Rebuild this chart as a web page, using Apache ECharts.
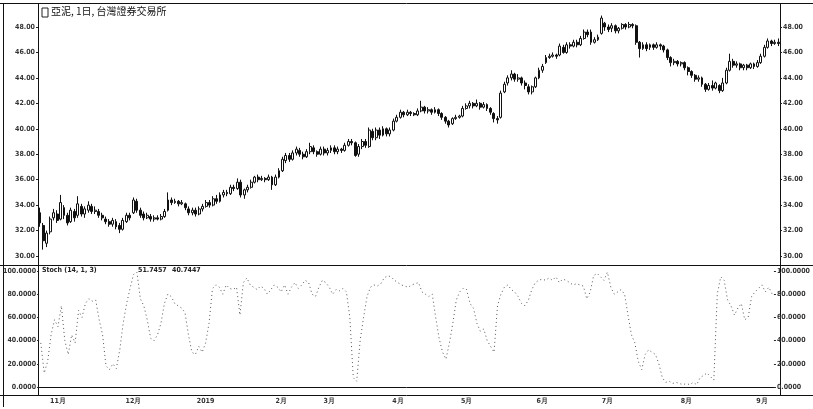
<!DOCTYPE html>
<html lang="zh-Hant">
<head>
    <meta charset="UTF-8" />
    <title>亞泥, 1日</title>
    <script src="https://cdn.jsdelivr.net/npm/echarts@6/dist/echarts.min.js"></script>
</head>
<body style="margin:0;background:#fff">
    <div style="width: 813px; height: 409px" id="chart"></div>
    <script>
        // 交易日：每月的天數與月份標籤
        const monthKeys = ["2018-10", "2018-11", "2018-12", "2019-01", "2019-02", "2019-03", "2019-04", "2019-05", "2019-06", "2019-07", "2019-08", "2019-09"];
        const monthCounts = [5, 22, 21, 22, 14, 20, 20, 22, 19, 23, 22, 4];
        const monthLabels = ["", "11月", "12月", "2019", "2月", "3月", "4月", "5月", "6月", "7月", "8月", "9月"];

        // K線 [開, 收, 低, 高]
        const octBars = [[33.4, 32.6, 32.3, 33.8], [32.4, 31.2, 30.5, 32.6], [31.0, 31.8, 30.7, 32.0], [31.9, 32.9, 31.7, 33.1], [33.0, 33.4, 32.8, 33.7]];
        const novBars = [[33.3, 32.8, 32.6, 33.6], [32.9, 34.2, 32.8, 34.8], [33.8, 33.2, 32.9, 34.0], [33.2, 32.6, 32.4, 33.4], [32.7, 33.6, 32.6, 33.8], [33.5, 33.0, 32.7, 33.7],
            [33.2, 34.1, 33.0, 34.7], [33.9, 33.3, 33.1, 34.1], [33.3, 33.7, 33.0, 33.9], [33.6, 34.0, 33.4, 34.3], [33.9, 33.5, 33.3, 34.1], [33.5, 33.6, 33.3, 33.9],
            [33.5, 33.2, 33.0, 33.7], [33.2, 33.0, 32.8, 33.4], [32.9, 32.7, 32.5, 33.1], [32.7, 32.5, 32.3, 32.9], [32.5, 32.8, 32.3, 33.0], [32.7, 32.3, 32.1, 32.9],
            [32.4, 32.1, 31.8, 32.6], [32.1, 32.8, 32.0, 33.0], [32.7, 33.2, 32.6, 33.4], [33.2, 33.0, 32.8, 33.4]];
        const decBars = [[33.4, 34.4, 33.3, 34.6], [34.3, 33.6, 33.4, 34.5], [33.6, 33.2, 33.0, 33.8], [33.3, 33.0, 32.8, 33.5], [33.0, 33.2, 32.9, 33.4], [33.1, 32.9, 32.7, 33.3],
            [32.9, 33.0, 32.7, 33.2], [33.0, 32.9, 32.8, 33.2], [32.9, 33.1, 32.8, 33.3], [33.1, 33.5, 33.0, 33.7], [33.6, 34.4, 33.5, 35.0], [34.4, 34.2, 34.0, 34.6],
            [34.2, 34.3, 34.1, 34.5], [34.3, 34.1, 33.9, 34.4], [34.1, 34.2, 34.0, 34.4], [34.1, 33.8, 33.6, 34.2], [33.7, 33.4, 33.2, 33.9], [33.4, 33.6, 33.2, 33.8],
            [33.6, 33.3, 33.1, 33.8], [33.3, 33.7, 33.2, 33.9], [33.7, 33.9, 33.5, 34.1]];
        const janBars = [[33.9, 34.2, 33.8, 34.4], [34.2, 34.0, 33.8, 34.4], [34.0, 34.5, 33.9, 34.7], [34.5, 34.3, 34.1, 34.8], [34.3, 34.8, 34.2, 35.0], [34.8, 35.0, 34.6, 35.2],
            [35.0, 34.9, 34.7, 35.2], [34.9, 35.4, 34.8, 35.6], [35.4, 35.3, 35.1, 35.6], [35.3, 35.8, 35.2, 36.1], [35.8, 34.8, 34.6, 36.0], [34.8, 35.2, 34.5, 35.3],
            [35.2, 35.4, 35.0, 35.6], [35.4, 35.8, 35.3, 36.0], [35.8, 36.2, 35.7, 36.3], [36.2, 36.0, 35.8, 36.4], [36.0, 36.1, 35.9, 36.3], [36.1, 36.0, 35.8, 36.2],
            [36.0, 36.2, 35.9, 36.4], [36.2, 35.6, 35.2, 36.3], [35.6, 36.2, 35.5, 36.4], [36.2, 36.7, 36.1, 36.9]];
        const febBars = [[36.7, 37.6, 36.6, 37.8], [37.5, 37.9, 37.3, 38.1], [37.9, 37.6, 37.4, 38.1], [37.6, 38.1, 37.5, 38.3], [38.1, 38.4, 37.9, 38.6], [38.3, 38.0, 37.8, 38.5],
            [38.0, 37.8, 37.6, 38.2], [37.8, 38.2, 37.7, 38.4], [38.2, 38.6, 38.0, 38.9], [38.5, 38.2, 38.0, 38.7], [38.2, 38.0, 37.8, 38.3], [38.0, 38.4, 37.9, 38.6],
            [38.4, 38.1, 37.9, 38.6], [38.1, 38.3, 37.9, 38.5]];
        const marBars = [[38.3, 38.5, 38.1, 38.7], [38.5, 38.2, 38.0, 38.7], [38.2, 38.4, 38.0, 38.6], [38.4, 38.3, 38.1, 38.5], [38.3, 38.7, 38.2, 38.9], [38.7, 39.0, 38.6, 39.2],
            [39.0, 38.9, 38.7, 39.2], [38.9, 37.9, 37.8, 39.0], [38.0, 38.6, 37.8, 38.8], [38.6, 39.0, 38.4, 39.2], [39.0, 38.7, 38.5, 39.2], [38.6, 39.9, 38.5, 40.1],
            [39.8, 39.3, 39.1, 40.0], [39.3, 39.9, 39.1, 40.1], [39.9, 39.5, 39.2, 40.1], [39.5, 40.0, 39.4, 40.2], [40.0, 39.6, 39.4, 40.1], [39.6, 39.9, 39.4, 40.1],
            [39.9, 40.6, 39.8, 40.8], [40.6, 40.9, 40.5, 41.1]];
        const aprBars = [[40.9, 41.3, 40.8, 41.5], [41.3, 41.1, 40.9, 41.4], [41.1, 41.3, 41.0, 41.5], [41.3, 41.2, 41.0, 41.4], [41.2, 41.1, 41.0, 41.3], [41.1, 41.4, 41.0, 41.6],
            [41.4, 41.7, 41.3, 42.2], [41.7, 41.4, 41.2, 41.8], [41.4, 41.5, 41.2, 41.7], [41.5, 41.3, 41.1, 41.6], [41.3, 41.5, 41.2, 41.7], [41.5, 41.2, 41.0, 41.6],
            [41.2, 40.9, 40.7, 41.3], [40.9, 40.6, 40.4, 41.0], [40.6, 40.3, 40.1, 40.7], [40.4, 40.8, 40.3, 40.9], [40.8, 40.9, 40.7, 41.1], [40.9, 41.0, 40.8, 41.1],
            [41.0, 41.6, 40.9, 41.8], [41.6, 41.8, 41.5, 42.0]];
        const mayBars = [[41.8, 42.0, 41.6, 42.2], [42.0, 41.8, 41.6, 42.1], [41.8, 42.0, 41.7, 42.3], [42.0, 41.7, 41.5, 42.1], [41.7, 41.9, 41.6, 42.1], [41.9, 41.6, 41.4, 42.0],
            [41.6, 41.3, 41.1, 41.7], [41.2, 40.8, 40.5, 41.3], [40.8, 40.7, 40.4, 41.0], [40.9, 42.8, 40.8, 43.0], [42.9, 43.5, 42.8, 43.7], [43.6, 44.0, 43.4, 44.2],
            [44.0, 44.3, 43.8, 44.6], [44.3, 43.9, 43.7, 44.4], [43.9, 44.0, 43.7, 44.3], [44.0, 43.6, 43.4, 44.1], [43.6, 43.4, 43.1, 43.8], [43.3, 42.9, 42.7, 43.5],
            [42.9, 43.3, 42.7, 43.4], [43.3, 44.0, 43.2, 44.1], [44.0, 44.6, 43.9, 44.8], [44.6, 44.9, 44.4, 45.1]];
        const junBars = [[45.2, 45.6, 45.1, 45.8], [45.6, 45.7, 45.5, 45.9], [45.7, 45.8, 45.6, 46.0], [45.8, 45.7, 45.5, 45.9], [45.8, 46.5, 45.7, 46.7], [46.4, 46.0, 45.9, 46.6],
            [46.0, 46.6, 45.9, 46.8], [46.6, 46.5, 46.3, 46.8], [46.5, 46.8, 46.4, 47.0], [46.8, 46.6, 46.4, 47.0], [46.6, 47.1, 46.5, 47.3], [47.1, 47.6, 47.0, 47.8],
            [47.6, 47.4, 47.2, 47.8], [47.6, 46.8, 46.6, 47.8], [46.8, 47.0, 46.7, 47.2], [47.0, 47.2, 46.9, 47.4], [47.5, 48.7, 47.4, 48.9], [48.3, 48.0, 47.7, 48.4],
            [48.0, 47.8, 47.6, 48.2]];
        const julBars = [[47.9, 48.1, 47.6, 48.3], [48.1, 47.7, 47.5, 48.2], [47.7, 47.9, 47.5, 48.0], [47.9, 48.2, 47.8, 48.3], [48.2, 48.0, 47.8, 48.3], [48.0, 48.2, 47.9, 48.4],
            [48.2, 48.1, 47.9, 48.3], [48.1, 46.8, 46.6, 48.2], [46.8, 46.3, 45.6, 46.9], [46.3, 46.6, 46.2, 46.8], [46.6, 46.3, 46.1, 46.8], [46.4, 46.6, 46.2, 46.7],
            [46.6, 46.4, 46.2, 46.7], [46.4, 46.6, 46.3, 46.8], [46.6, 46.5, 46.2, 46.7], [46.5, 46.2, 46.0, 46.6], [46.2, 45.6, 45.4, 46.3], [45.6, 45.2, 44.9, 45.7],
            [45.2, 45.3, 45.0, 45.5], [45.3, 45.1, 44.9, 45.4], [45.1, 45.2, 44.9, 45.3], [45.2, 44.8, 44.6, 45.3], [44.8, 44.5, 44.2, 44.9]];
        const augBars = [[44.5, 44.2, 44.0, 44.6], [44.2, 43.9, 43.7, 44.3], [43.9, 44.0, 43.7, 44.2], [44.0, 43.5, 43.3, 44.1], [43.5, 43.1, 42.9, 43.6], [43.1, 43.4, 43.0, 43.6],
            [43.4, 43.2, 43.0, 43.8], [43.2, 43.6, 43.1, 43.7], [43.4, 43.0, 42.8, 43.5], [43.0, 43.6, 42.9, 44.0], [43.6, 44.6, 43.5, 44.8], [44.6, 45.3, 44.5, 45.9],
            [45.3, 45.0, 44.8, 45.5], [45.0, 45.1, 44.8, 45.3], [45.1, 44.8, 44.6, 45.2], [44.8, 45.0, 44.6, 45.1], [45.0, 44.8, 44.6, 45.1], [44.8, 45.1, 44.7, 45.2],
            [45.1, 44.9, 44.7, 45.2], [44.9, 45.2, 44.8, 45.4], [45.2, 45.7, 45.1, 45.9], [45.7, 46.4, 45.6, 46.6]];
        const sepBars = [[46.4, 46.9, 46.3, 47.1], [46.9, 46.7, 46.5, 47.0], [46.7, 46.8, 46.6, 47.0], [46.8, 46.7, 46.5, 47.1]];

        // Stoch %K
        const stochOct = [38, 12, 22, 45, 58];
        const stochNov = [52, 70, 40, 28, 45, 38, 66, 60, 72, 76, 74, 75, 58, 45, 18, 15, 20, 16, 32, 55, 72, 85];
        const stochDec = [97, 99, 76, 70, 58, 42, 40, 45, 55, 72, 80, 78, 72, 70, 68, 64, 45, 30, 28, 35, 30];
        const stochJan = [38, 55, 85, 88, 86, 80, 88, 85, 84, 86, 62, 90, 94, 88, 86, 84, 87, 85, 80, 84, 88, 86];
        const stochFeb = [82, 88, 80, 86, 90, 85, 88, 92, 90, 80, 78, 86, 92, 90];
        const stochMar = [86, 80, 84, 83, 85, 82, 60, 8, 5, 40, 60, 78, 86, 88, 87, 89, 94, 96, 95, 92];
        const stochApr = [90, 88, 87, 86, 88, 89, 90, 82, 80, 78, 80, 60, 42, 30, 24, 38, 55, 75, 82, 85];
        const stochMay = [84, 72, 68, 55, 48, 50, 40, 35, 30, 70, 80, 86, 88, 84, 82, 78, 72, 70, 75, 84, 90, 92];
        const stochJun = [93, 92, 94, 92, 95, 90, 93, 92, 90, 88, 89, 88, 87, 76, 82, 96, 98, 95, 92];
        const stochJul = [99, 86, 80, 82, 84, 80, 62, 45, 38, 22, 15, 28, 32, 30, 28, 20, 8, 4, 5, 3, 4, 3, 2];
        const stochAug = [3, 2, 4, 2, 8, 10, 12, 9, 6, 80, 95, 92, 75, 70, 62, 68, 72, 58, 60, 78, 82, 85];
        const stochSep = [88, 82, 86, 80];

        const priceTicks = { min: 30, max: 48, interval: 2 };
        const stochTicks = { min: 0, max: 100, interval: 20 };

        const bars = [].concat(octBars, novBars, decBars, janBars, febBars, marBars, aprBars, mayBars, junBars, julBars, augBars, sepBars);
        const stochK = [].concat(stochOct, stochNov, stochDec, stochJan, stochFeb, stochMar, stochApr, stochMay, stochJun, stochJul, stochAug, stochSep);

        // 類目與月份起點
        const days = [];
        const monthStart = {};
        monthKeys.forEach(function (key, m) {
            monthStart[days.length] = monthLabels[m];
            for (let k = 0; k < monthCounts[m]; k++) days.push(key + "-" + (k + 1));
        });
        const isMonthStart = (idx) => idx > 0 && monthStart[idx] !== undefined;

        const myChart = echarts.init(document.getElementById("chart"));
        const L = 38, R = 780;
        const lab = { fontSize: 7, color: "#333", fontWeight: "bold", fontFamily: "DejaVu Sans Condensed" };
        const line = (x1, y1, x2, y2, w) => ({
            type: "line", silent: true,
            shape: { x1: x1, y1: y1, x2: x2, y2: y2 },
            style: { stroke: "#111", lineWidth: w || 1 }
        });

        function yAxisOf(grid, pos, t, digits) {
            return {
                type: "value", gridIndex: grid, position: pos,
                min: t.min, max: t.max, interval: t.interval,
                splitLine: { show: false },
                axisLine: { show: false },
                axisTick: { show: true, length: 2, lineStyle: { color: "#222" } },
                axisLabel: Object.assign({ margin: 3, formatter: (v) => v.toFixed(digits) }, lab)
            };
        }

        option = {
            animation: false,
            backgroundColor: "#fff",
            grid: [
                { left: L, right: 813 - R, top: 27, height: 229 },
                { left: L, right: 813 - R, top: 271, height: 116 }
            ],
            xAxis: [
                {
                    type: "category", gridIndex: 0, data: days,
                    axisLine: { show: false }, axisTick: { show: false }, axisLabel: { show: false }
                },
                {
                    type: "category", gridIndex: 1, data: days, offset: 8,
                    axisLine: { lineStyle: { color: "#111" } },
                    axisTick: { interval: (i) => isMonthStart(i), alignWithLabel: true, length: 3, lineStyle: { color: "#222" } },
                    axisLabel: Object.assign({
                        margin: 3,
                        interval: (i) => isMonthStart(i),
                        formatter: (v, i) => monthStart[i] || ""
                    }, lab)
                }
            ],
            yAxis: [
                yAxisOf(0, "left", priceTicks, 2),
                yAxisOf(0, "right", priceTicks, 2),
                yAxisOf(1, "left", stochTicks, 4),
                yAxisOf(1, "right", stochTicks, 4)
            ],
            series: [
                {
                    name: "亞泥", type: "candlestick",
                    xAxisIndex: 0, yAxisIndex: 0,
                    data: bars, clip: false,
                    barWidth: 2.4,
                    itemStyle: { color: "#fff", color0: "#111", borderColor: "#111", borderColor0: "#111", borderWidth: 1 }
                },
                {
                    name: "Stoch", type: "line",
                    xAxisIndex: 1, yAxisIndex: 2,
                    data: stochK, symbol: "none",
                    lineStyle: { color: "#555", width: 1, type: [1, 3] }
                }
            ],
            graphic: [
                line(3.5, 3, 3.5, 407), line(0, 3.5, 813, 3.5),
                line(L + 0.5, 3, L + 0.5, 395), line(R + 0.5, 3, R + 0.5, 395),
                line(0, 265.5, 813, 265.5), line(0, 395.5, 813, 395.5),
                { type: "rect", silent: true, shape: { x: 42, y: 8, width: 6, height: 9 }, style: { fill: "none", stroke: "#222", lineWidth: 1 } },
                { type: "text", silent: true, left: 51, top: 6, style: { text: "亞泥, 1日, 台灣證券交易所", font: "10px 'Noto Sans CJK TC'", fill: "#111" } },
                { type: "text", silent: true, left: 42, top: 267, style: { text: "Stoch (14, 1, 3)", font: "bold 7px 'DejaVu Sans Condensed'", fill: "#222" } },
                { type: "text", silent: true, left: 138, top: 267, style: { text: "51.7457", font: "bold 7px 'DejaVu Sans Condensed'", fill: "#222" } },
                { type: "text", silent: true, left: 172, top: 267, style: { text: "40.7447", font: "bold 7px 'DejaVu Sans Condensed'", fill: "#222" } }
            ]
        };

        myChart.setOption(option);
    </script>
</body>
</html>
